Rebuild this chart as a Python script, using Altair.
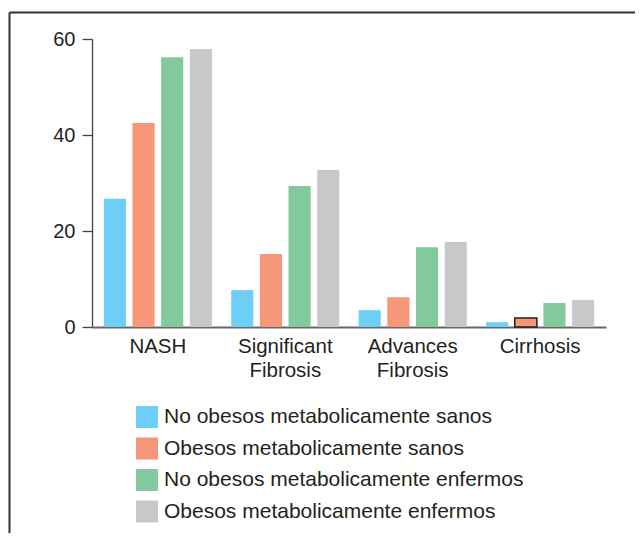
import altair as alt
import pandas as pd

categories = ["NASH", "Significant Fibrosis", "Advances Fibrosis", "Cirrhosis"]
series = [
    "No obesos metabolicamente sanos",
    "Obesos metabolicamente sanos",
    "No obesos metabolicamente enfermos",
    "Obesos metabolicamente enfermos",
]
colors = ["#6DCFF6", "#F7977A", "#82CA9D", "#C7C8CA"]
values = {
    "No obesos metabolicamente sanos": [26.7, 7.7, 3.5, 1.0],
    "Obesos metabolicamente sanos": [42.5, 15.2, 6.2, 1.9],
    "No obesos metabolicamente enfermos": [56.2, 29.4, 16.6, 5.0],
    "Obesos metabolicamente enfermos": [57.9, 32.7, 17.7, 5.6],
}
y_ticks = [0, 20, 40, 60]

rows = []
for s in series:
    for c, v in zip(categories, values[s]):
        rows.append({"category": c, "series": s, "value": v})
df = pd.DataFrame(rows)

FONT = "Liberation Sans"
TXT = "#231F20"

bars = alt.Chart(df).mark_bar(stroke="#231F20").encode(
    x=alt.X(
        "category:N",
        sort=categories,
        title=None,
        scale=alt.Scale(paddingInner=0.1, paddingOuter=0.067),
        axis=alt.Axis(
            ticks=False,
            tickSize=0,
            grid=False,
            labelAngle=0,
            labelFontSize=20.5,
            labelFont=FONT,
            labelColor=TXT,
            labelPadding=9,
            labelLineHeight=24,
            labelExpr="split(datum.label, ' ')",
            domainColor="#666666",
            domainWidth=2,
        ),
    ),
    xOffset=alt.XOffset(
        "series:N",
        sort=series,
        scale=alt.Scale(paddingInner=0.228, paddingOuter=0.114),
    ),
    y=alt.Y(
        "value:Q",
        title=None,
        scale=alt.Scale(domain=[0, 60], nice=False),
        axis=alt.Axis(
            values=y_ticks,
            grid=False,
            tickSize=10,
            tickColor="#444444",
            tickWidth=1.3,
            domainColor="#444444",
            domainWidth=1.3,
            labelFontSize=20,
            labelFont=FONT,
            labelColor=TXT,
            labelPadding=7,
        ),
    ),
    color=alt.Color(
        "series:N",
        sort=series,
        scale=alt.Scale(domain=series, range=colors),
        legend=alt.Legend(
            title=None,
            orient="none",
            legendX=44,
            legendY=367,
            symbolType="square",
            symbolSize=484,
            symbolStrokeWidth=0,
            symbolOpacity=1,
            labelFontSize=21,
            labelFont=FONT,
            labelColor=TXT,
            labelOffset=6,
            rowPadding=9.5,
            padding=0,
            labelLimit=500,
        ),
    ),
    strokeWidth=alt.condition(
        "datum.category == 'Cirrhosis' && datum.series == 'Obesos metabolicamente sanos'",
        alt.value(1.5),
        alt.value(0),
    ),
)

frame_data = alt.Data(values=[{"k": 1}])
top_rule = alt.Chart(frame_data).mark_rule(color="#333333", strokeWidth=2).encode(
    x=alt.value(-82.5), x2=alt.value(560), y=alt.value(-26.5)
)
left_rule = alt.Chart(frame_data).mark_rule(color="#333333", strokeWidth=2).encode(
    x=alt.value(-82.5), y=alt.value(-26.5), y2=alt.value(520)
)

chart = (
    alt.layer(bars, top_rule, left_rule)
    .properties(
        width=514,
        height=288,
        autosize="none",
        padding={"left": 84, "top": 31, "right": 29, "bottom": 206},
        view=alt.ViewBackground(strokeWidth=0, stroke="transparent"),
    )
    .configure_view(strokeWidth=0, stroke="transparent")
    .configure_axis(grid=False)
    .configure(font=FONT)
)

chart.save("out.html", embed_options={"renderer": "svg", "actions": False})
